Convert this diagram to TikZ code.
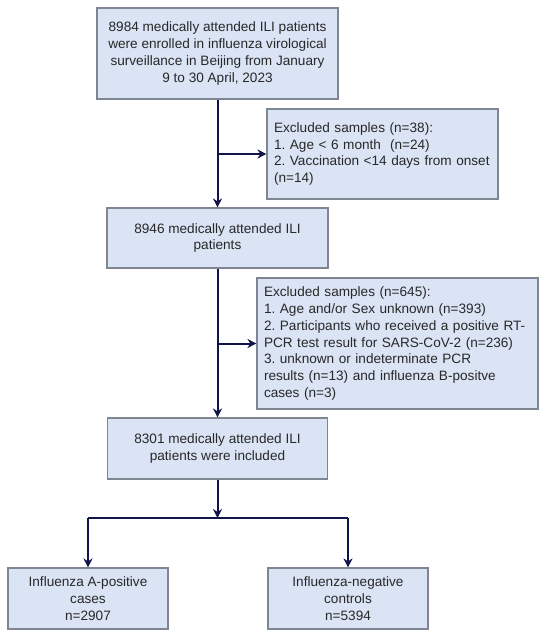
\documentclass[tikz,border=0pt]{standalone}
\usepackage{fontspec}
\setmainfont{Liberation Sans}
\usetikzlibrary{arrows.meta,calc}
\definecolor{boxfill}{RGB}{218,228,245}
\definecolor{boxline}{RGB}{128,134,145}
\definecolor{arrowcol}{RGB}{16,20,72}
\definecolor{txt}{RGB}{40,40,40}
\tikzset{
  flowbox/.style={draw=boxline, fill=boxfill, line width=1.1pt, inner sep=0pt,
    text=txt, font=\fontsize{13.6}{16.8}\selectfont\frenchspacing, align=center},
  exclbox/.style={flowbox, align=left, inner xsep=7pt},
  arr/.style={draw=arrowcol, line width=2pt, -{Stealth[length=9pt,width=9pt]}},
  ln/.style={draw=arrowcol, line width=2pt}
}
\begin{document}
\begin{tikzpicture}[x=1pt,y=-1pt]
\useasboundingbox (0,0) rectangle (550,636);
\node[flowbox, minimum width=241pt, minimum height=91pt] (b1) at (217.5,53.5)
  {8984 medically attended ILI patients\\were enrolled in influenza virological\\surveillance in Beijing from January\\9 to 30 April, 2023};
\node[exclbox, minimum width=231pt, minimum height=90pt, text width=217pt] (e1) at (382.5,154)
  {Excluded samples (n=38):\\1. Age {\textless} 6 month\ \ (n=24)\\2. Vaccination {\textless}14 days from onset\\(n=14)};
\node[flowbox, minimum width=221pt, minimum height=60pt] (b2) at (217.5,238)
  {8946 medically attended ILI\\patients};
\node[exclbox, minimum width=281pt, minimum height=131pt, text width=267pt] (e2) at (397.5,343.5)
  {Excluded samples (n=645):\\1. Age and/or Sex unknown (n=393)\\2. Participants who received a positive RT-\\PCR test result for SARS-CoV-2 (n=236)\\3. unknown or indeterminate PCR\\results (n=13) and influenza B-positve\\cases (n=3)};
\node[flowbox, minimum width=220pt, minimum height=61pt] (b3) at (217.5,448.5)
  {8301 medically attended ILI\\patients were included};
\node[flowbox, minimum width=160pt, minimum height=61pt] (ba) at (88,598.5)
  {Influenza A-positive\\cases\\n=2907};
\node[flowbox, minimum width=160pt, minimum height=61pt] (bn) at (348,598.5)
  {Influenza-negative\\controls\\n=5394};
\coordinate (j1) at (b1.south |- e1.west);
\coordinate (j2) at (b2.south |- e2.west);
\coordinate (j3) at (217.5,518);
\draw[arr] (b1.south) -- (b2.north);
\draw[arr] (j1) -- (e1.west);
\draw[arr] (b2.south) -- (b3.north);
\draw[arr] (j2) -- (e2.west);
\draw[arr] (b3.south) -- (j3);
\draw[ln] (j3) -- (ba.north |- j3) -- (bn.north |- j3);
\draw[arr] (ba.north |- j3) -- (ba.north);
\draw[arr] (bn.north |- j3) -- (bn.north);
\end{tikzpicture}
\end{document}
